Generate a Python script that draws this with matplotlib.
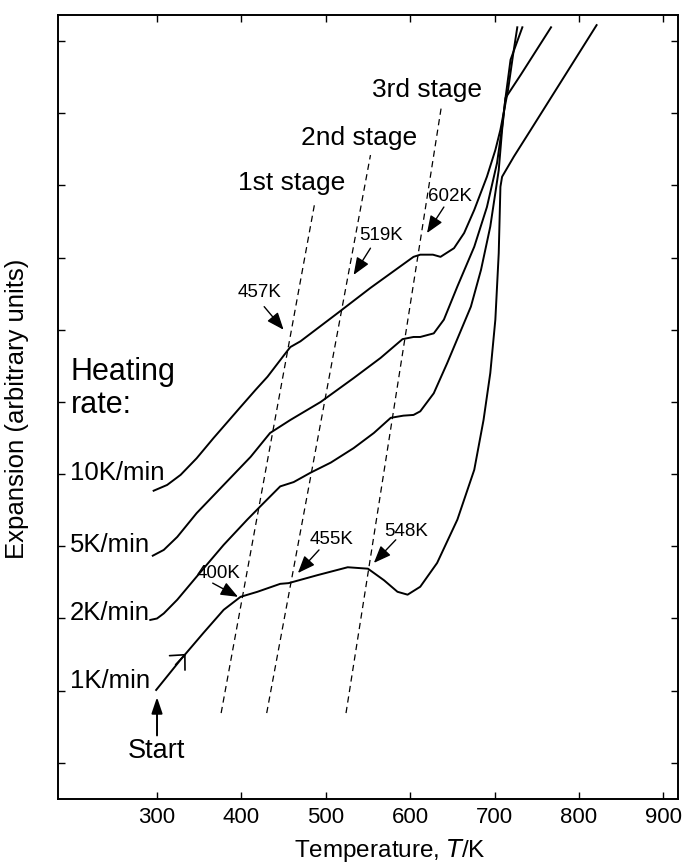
import matplotlib.pyplot as plt

plt.rcParams['font.family'] = ['Liberation Sans', 'DejaVu Sans']

# Dilatometer traces: temperature (K) vs expansion (arbitrary units)
temp_10k = [296, 312, 328, 347, 367, 399, 417, 431, 450, 458, 470, 514, 553, 604, 612, 627,
            636, 652, 664, 676, 691, 701, 707, 716, 722, 727]
exp_10k = [3.77, 3.85, 3.99, 4.22, 4.50, 4.93, 5.17, 5.35, 5.64, 5.76, 5.84, 6.23, 6.58, 7.01,
           7.04, 7.04, 7.01, 7.13, 7.34, 7.66, 8.12, 8.49, 8.77, 9.32, 9.81, 10.19]

temp_5k = [295, 308, 324, 347, 379, 411, 434, 458, 494, 533, 565, 591, 604, 612, 628, 640,
           656, 676, 691, 703, 709, 713, 719, 733]
exp_5k = [2.87, 2.95, 3.13, 3.46, 3.85, 4.24, 4.57, 4.75, 5.00, 5.33, 5.61, 5.87, 5.90, 5.90,
          5.95, 6.14, 6.60, 7.15, 7.70, 8.31, 8.81, 9.21, 9.74, 10.19]

temp_2k = [292, 300, 308, 324, 347, 379, 407, 423, 446, 462, 482, 506, 533, 557, 577, 592,
           604, 612, 628, 644, 672, 684, 695, 705, 709, 713, 731, 767]
exp_2k = [1.98, 2.00, 2.07, 2.26, 2.58, 3.02, 3.37, 3.56, 3.83, 3.89, 4.02, 4.16, 4.36, 4.57,
          4.78, 4.81, 4.82, 4.87, 5.12, 5.54, 6.32, 6.83, 7.43, 8.21, 8.77, 9.21, 9.53, 10.19]

temp_1k = [299, 328, 355, 379, 399, 419, 446, 456, 490, 526, 550, 569, 585, 597, 612, 632,
           656, 676, 687, 695, 701, 705, 707, 709, 723, 743, 821]
exp_1k = [1.01, 1.43, 1.80, 2.12, 2.30, 2.37, 2.48, 2.49, 2.60, 2.71, 2.69, 2.53, 2.37, 2.33,
          2.44, 2.77, 3.37, 4.06, 4.75, 5.40, 6.14, 7.06, 7.98, 8.12, 8.40, 8.77, 10.22]

rate_labels = ['10K/min', '5K/min', '2K/min', '1K/min']
rate_label_y = [3.92, 2.92, 1.98, 1.04]

# stage boundary lines (T at bottom / top, expansion at bottom / top)
stage_names = ['1st stage', '2nd stage', '3rd stage']
stage_t0 = [376, 430, 524]
stage_t1 = [487, 553, 637]
stage_y0 = [0.69, 0.69, 0.69]
stage_y1 = [7.76, 8.42, 9.09]
stage_label_t = [460, 540, 620]
stage_label_y = [8.03, 8.66, 9.32]

# transition temperatures marked on the 10K/min and 1K/min traces
mark_labels = ['457K', '519K', '602K', '400K', '455K', '548K']
mark_text_t = [422, 566, 647, 373, 507, 595]
mark_text_y = [6.51, 7.31, 7.85, 2.62, 3.09, 3.21]
mark_tail_t = [427, 553, 640, 366, 492, 583]
mark_tail_y = [6.32, 7.13, 7.70, 2.49, 2.95, 3.09]
mark_tip_t = [450, 533, 620, 396, 467, 557]
mark_tip_y = [6.00, 6.76, 7.34, 2.30, 2.63, 2.77]

x_ticks = [300, 400, 500, 600, 700, 800, 900]
y_ticks = list(range(11))

fig = plt.figure(figsize=(6.85, 8.63), dpi=100)
ax = fig.add_axes([0.0851, 0.0742, 0.9041, 0.9084])

for t, e in [(temp_10k, exp_10k), (temp_5k, exp_5k), (temp_2k, exp_2k), (temp_1k, exp_1k)]:
    ax.plot(t, e, color='black', lw=1.4, solid_joinstyle='round')

for i in range(3):
    ax.plot([stage_t0[i], stage_t1[i]], [stage_y0[i], stage_y1[i]], color='black',
            lw=0.9, dashes=(5, 3.5))
    ax.text(stage_label_t[i], stage_label_y[i], stage_names[i], fontsize=19,
            ha='center', va='center')

arrow_kw = dict(arrowstyle='-|>,head_length=0.7,head_width=0.28', color='black',
                lw=1.0, shrinkA=0, shrinkB=0, mutation_scale=15)
for i in range(len(mark_labels)):
    ax.annotate('', xy=(mark_tip_t[i], mark_tip_y[i]),
                xytext=(mark_tail_t[i], mark_tail_y[i]), arrowprops=arrow_kw)
    ax.text(mark_text_t[i], mark_text_y[i], mark_labels[i], fontsize=13.5,
            ha='center', va='center')

for lab, y in zip(rate_labels, rate_label_y):
    ax.text(197, y, lab, fontsize=18.5, ha='left', va='baseline')
ax.text(198, 5.30, 'Heating', fontsize=22, ha='left', va='baseline')
ax.text(198, 4.85, 'rate:', fontsize=22, ha='left', va='baseline')

# start marker and direction chevron on the 1K/min trace
ax.annotate('', xy=(300, 0.91), xytext=(300, 0.38),
            arrowprops=dict(arrowstyle='-|>,head_length=0.65,head_width=0.22',
                            color='black', lw=1.4, shrinkA=0, shrinkB=0, mutation_scale=15))
ax.text(299, 0.07, 'Start', fontsize=19.5, ha='center', va='baseline')
ax.annotate('', xy=(334, 1.51), xytext=(322, 1.36),
            arrowprops=dict(arrowstyle='->,head_length=0.4,head_width=0.38',
                            color='black', lw=1.2, shrinkA=0, shrinkB=0, mutation_scale=20))

ax.set_xlim(183, 917)
ax.set_ylim(-0.5, 10.36)
ax.set_xticks(x_ticks)
ax.set_yticks(y_ticks)
ax.set_yticklabels([])
ax.tick_params(direction='in', top=True, right=True, length=5, width=1.0,
               labelsize=16, pad=6)
for s in ax.spines.values():
    s.set_linewidth(1.4)

ax.set_xlabel('Temperature, $\\mathit{T}$/K', fontsize=17.5)
ax.xaxis.set_label_coords(0.536, -0.049)
ax.set_ylabel('Expansion (arbitrary units)', fontsize=18.5, va='center')
ax.yaxis.set_label_coords(-0.066, 0.498)

plt.savefig('out.png', dpi=100)
